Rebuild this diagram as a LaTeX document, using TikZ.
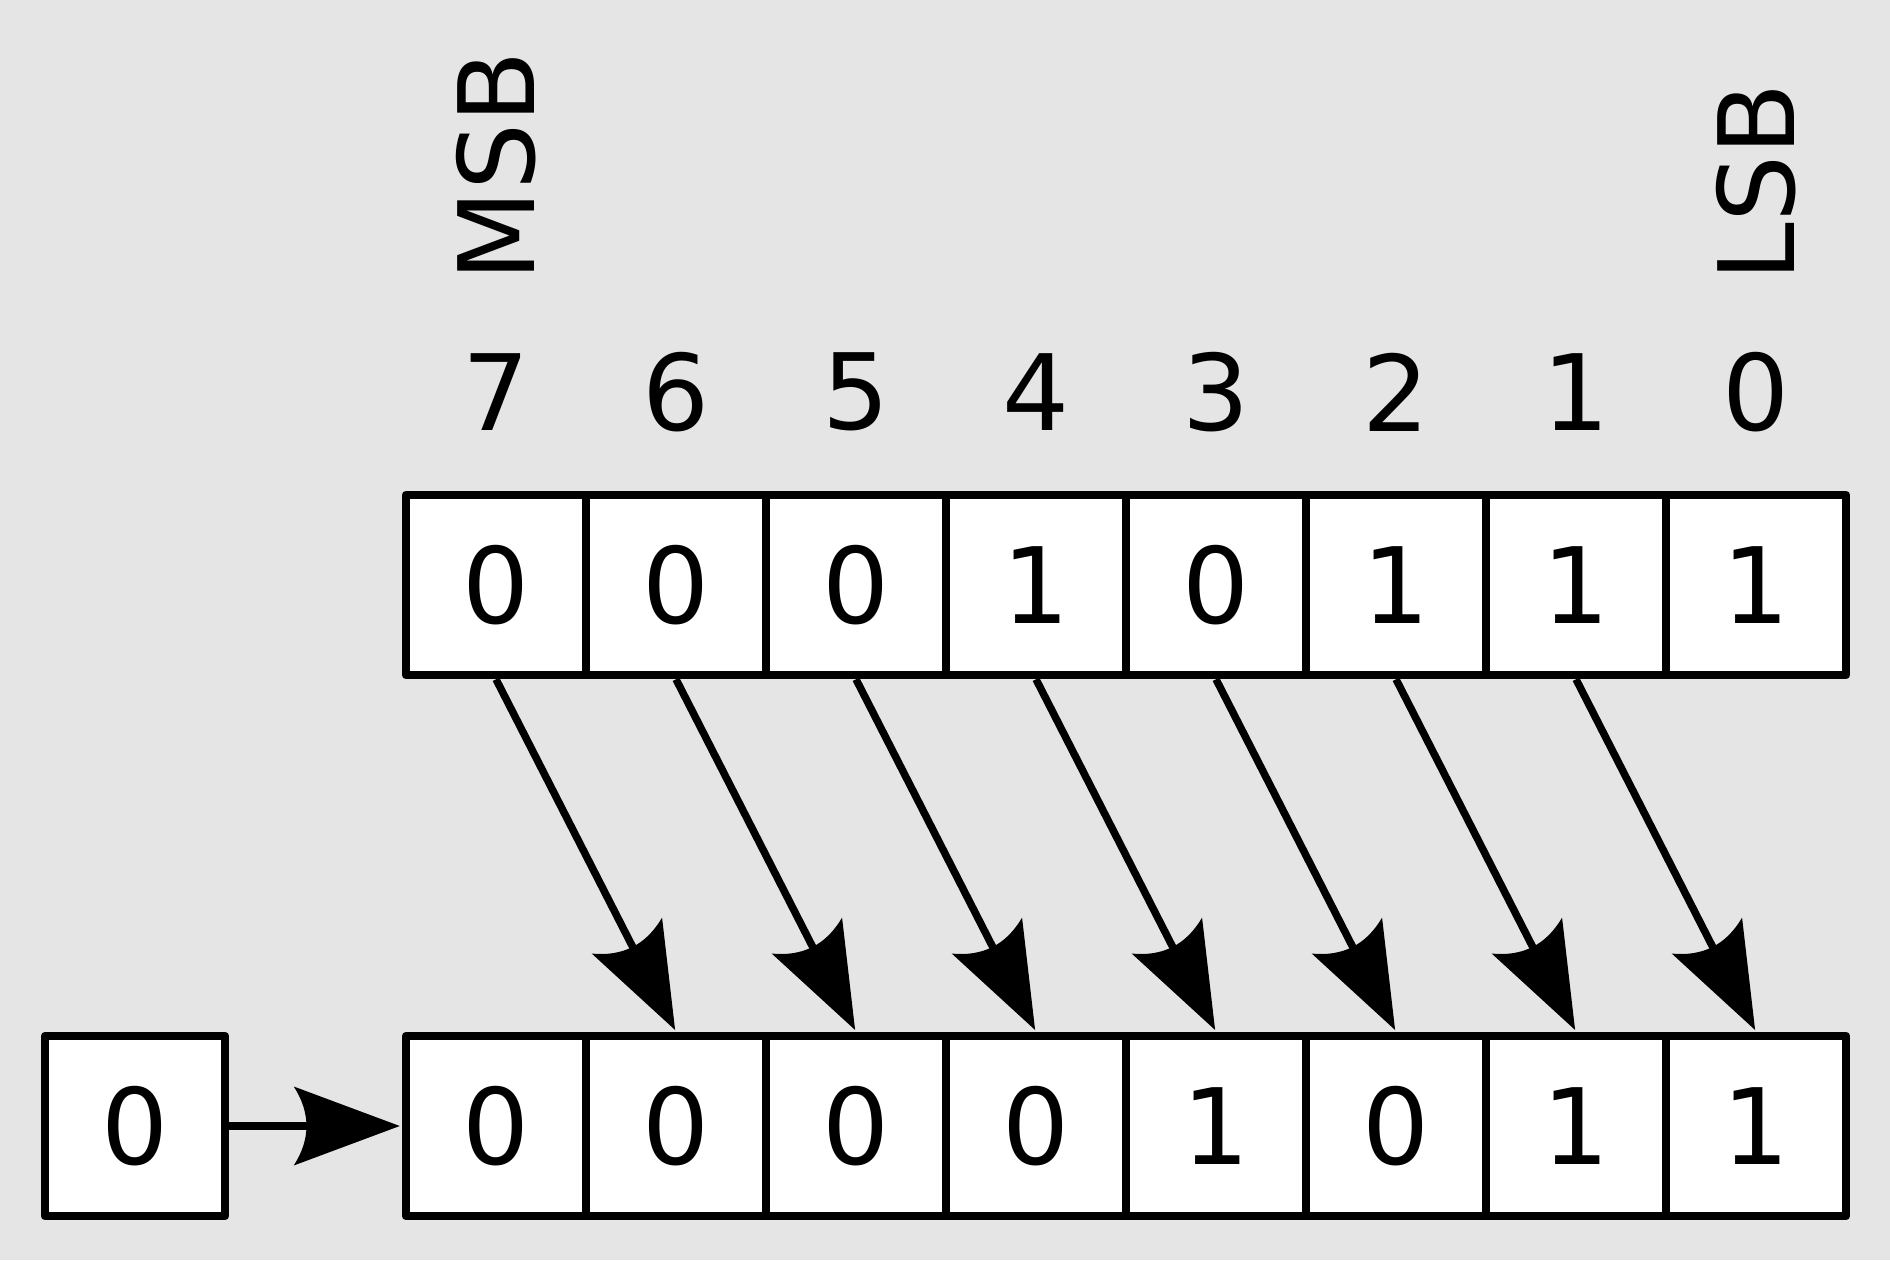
\documentclass[tikz,border=0pt]{standalone}
\usepackage{fontspec}
\setmainfont{DejaVu Sans}
\usetikzlibrary{arrows.meta}
\definecolor{bggray}{RGB}{229,229,229}

% Arrow tip with a hollowed, curved back
\pgfdeclarearrow{
  name=CurvedBack,
  parameters={\the\pgfarrowlength,\the\pgfarrowwidth},
  setup code={
    \pgfarrowssettipend{0pt}
    \pgfarrowssetbackend{-\pgfarrowlength}
    \pgfarrowssetlineend{-0.8\pgfarrowlength}
    \pgfarrowssavethe\pgfarrowlength
    \pgfarrowssavethe\pgfarrowwidth
  },
  drawing code={
    \pgfpathmoveto{\pgfpointorigin}
    \pgfpathlineto{\pgfpoint{-\pgfarrowlength}{0.5\pgfarrowwidth}}
    \pgfpathquadraticcurveto{\pgfpoint{-0.76\pgfarrowlength}{0pt}}{\pgfpoint{-\pgfarrowlength}{-0.5\pgfarrowwidth}}
    \pgfpathclose
    \pgfusepathqfill
  },
  defaults={length=1.06cm, width=0.79cm}
}

\begin{document}
\begin{tikzpicture}[
  bit/.style={draw, fill=white, line width=0.085cm, line join=round, minimum width=1.8cm, minimum height=1.8cm, inner sep=0pt, font=\fontsize{30}{36}\selectfont},
  idx/.style={inner sep=0pt, font=\fontsize{30}{36}\selectfont},
  mover/.style={line width=0.075cm, -{CurvedBack}, shorten >=0.02cm}
]
% Background and page size
\fill[bggray] (0,0) rectangle (18.9,12.6);
\useasboundingbox (0,0) rectangle (18.9,12.6);

% Bit positions
\node[idx] (n7) at (4.96, 8.68) {7};
\node[idx] (n6) at (6.76, 8.68) {6};
\node[idx] (n5) at (8.56, 8.68) {5};
\node[idx] (n4) at (10.36, 8.68) {4};
\node[idx] (n3) at (12.16, 8.68) {3};
\node[idx] (n2) at (13.96, 8.68) {2};
\node[idx] (n1) at (15.76, 8.68) {1};
\node[idx] (n0) at (17.56, 8.68) {0};
\node[idx, rotate=90, anchor=west] (msb) at (4.96, 9.78) {MSB};
\node[idx, rotate=90, anchor=west] (lsb) at (17.56, 9.78) {LSB};

% Byte before the shift
\node[bit] (in7) at (4.96, 6.75) {0};
\node[bit] (in6) at (6.76, 6.75) {0};
\node[bit] (in5) at (8.56, 6.75) {0};
\node[bit] (in4) at (10.36, 6.75) {1};
\node[bit] (in3) at (12.16, 6.75) {0};
\node[bit] (in2) at (13.96, 6.75) {1};
\node[bit] (in1) at (15.76, 6.75) {1};
\node[bit] (in0) at (17.56, 6.75) {1};

% Byte after the shift
\node[bit] (zin) at (1.35, 1.34) {0};
\node[bit] (out7) at (4.96, 1.34) {0};
\node[bit] (out6) at (6.76, 1.34) {0};
\node[bit] (out5) at (8.56, 1.34) {0};
\node[bit] (out4) at (10.36, 1.34) {0};
\node[bit] (out3) at (12.16, 1.34) {1};
\node[bit] (out2) at (13.96, 1.34) {0};
\node[bit] (out1) at (15.76, 1.34) {1};
\node[bit] (out0) at (17.56, 1.34) {1};

% Arrows
\draw[mover] (zin.east) -- (out7.west);
\draw[mover] (in7.south) -- (out6.north);
\draw[mover] (in6.south) -- (out5.north);
\draw[mover] (in5.south) -- (out4.north);
\draw[mover] (in4.south) -- (out3.north);
\draw[mover] (in3.south) -- (out2.north);
\draw[mover] (in2.south) -- (out1.north);
\draw[mover] (in1.south) -- (out0.north);
\end{tikzpicture}
\end{document}
